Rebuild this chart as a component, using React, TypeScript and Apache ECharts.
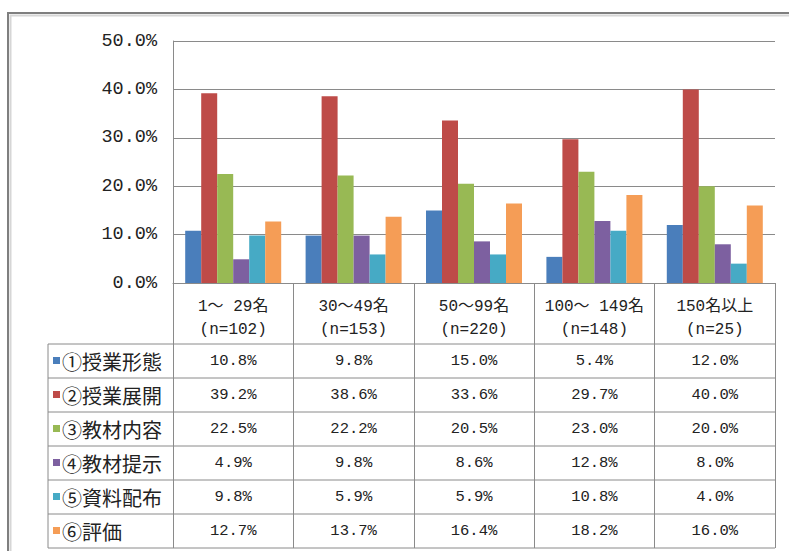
import { useEffect, useRef } from "react";
import * as echarts from "echarts";

const categories = ["1～ 29名", "30～49名", "50～99名", "100～ 149名", "150名以上"];
const sampleSizes = [102, 153, 220, 148, 25];
const seriesNames = ["①授業形態", "②授業展開", "③教材内容", "④教材提示", "⑤資料配布", "⑥評価"];
const s1Form = [10.8, 9.8, 15.0, 5.4, 12.0];
const s2Development = [39.2, 38.6, 33.6, 29.7, 40.0];
const s3Content = [22.5, 22.2, 20.5, 23.0, 20.0];
const s4Presentation = [4.9, 9.8, 8.6, 12.8, 8.0];
const s5Handouts = [9.8, 5.9, 5.9, 10.8, 4.0];
const s6Evaluation = [12.7, 13.7, 16.4, 18.2, 16.0];
const seriesValues = [s1Form, s2Development, s3Content, s4Presentation, s5Handouts, s6Evaluation];
const yMin = 0;
const yMax = 50;
const yInterval = 10;
const colors = ["#4A7EBB", "#BE4B48", "#98B954", "#7D60A0", "#46AAC5", "#F59D56"];

export default function App() {
  const ref = useRef<HTMLDivElement>(null);
  useEffect(() => {
    const chart = echarts.init(ref.current!, null, { renderer: "svg" });
    const GL = 173, GT = 41, GW = 602, GH = 242;
    const GB = GT + GH;
    const GR = GL + GW;
    const tableTop = 344, rowH = 34, tableLeft = 48;
    const nRows = seriesValues.length;
    const tableBottom = tableTop + rowH * nRows;
    const mono = "'Liberation Mono', 'Noto Sans CJK JP', monospace";
    const cjk = "'Noto Sans CJK JP', sans-serif";
    const lineColor = "#8a8a8a";
    const textColor = "#222";

    const valueAxes = seriesValues.map((vals, k) => ({
      type: "category" as const,
      gridIndex: 0,
      data: categories,
      position: "bottom" as const,
      offset: tableTop + k * rowH - GB,
      axisLine: { show: false },
      axisTick: { show: false },
      splitLine: { show: false },
      axisLabel: {
        interval: 0,
        margin: 0,
        lineHeight: rowH,
        fontSize: 15.5,
        fontFamily: mono,
        color: textColor,
        formatter: (_v: string, i: number) => vals[i].toFixed(1) + "%",
      },
    }));

    const graphics: any[] = [
      { type: "rect", shape: { x: 8, y: 13, width: 800, height: 560 }, style: { fill: "none", stroke: "#7f7f7f", lineWidth: 2 } },
      { type: "rect", shape: { x: 10.5, y: 15.5, width: 800, height: 560 }, style: { fill: "none", stroke: "#d6d6d6", lineWidth: 2 } },
      { type: "line", shape: { x1: tableLeft, y1: tableTop, x2: tableLeft, y2: tableBottom }, style: { stroke: lineColor, lineWidth: 1 } },
    ];
    for (let i = 0; i <= nRows; i++) {
      const y = tableTop + i * rowH;
      graphics.push({ type: "line", shape: { x1: tableLeft, y1: y, x2: GR, y2: y }, style: { stroke: lineColor, lineWidth: 1 } });
    }
    seriesNames.forEach((name, k) => {
      const cy = tableTop + k * rowH + rowH / 2;
      graphics.push({ type: "rect", shape: { x: 53, y: cy - 4, width: 7, height: 7 }, style: { fill: colors[k] } });
      graphics.push({
        type: "text", x: 62, y: cy,
        style: { text: name, fontSize: 20, fontFamily: cjk, fill: textColor, verticalAlign: "middle", align: "left" },
      });
    });

    chart.setOption({
      animation: false,
      grid: { left: GL, top: GT, width: GW, height: GH, containLabel: false },
      xAxis: [
        {
          type: "category",
          data: categories,
          axisLine: { show: true, lineStyle: { color: lineColor } },
          axisTick: { show: true, length: tableBottom - GB, lineStyle: { color: lineColor } },
          axisLabel: {
            interval: 0,
            margin: 12,
            lineHeight: 23,
            fontSize: 16,
            fontFamily: mono,
            color: textColor,
            formatter: (v: string, i: number) => `${v}\n(n=${sampleSizes[i]})`,
          },
        },
        ...valueAxes,
      ],
      yAxis: {
        type: "value",
        min: yMin,
        max: yMax,
        interval: yInterval,
        axisLine: { show: true, lineStyle: { color: lineColor } },
        axisTick: { show: false },
        splitLine: { show: true, lineStyle: { color: lineColor } },
        axisLabel: {
          margin: 16,
          fontSize: 18.5,
          fontFamily: mono,
          color: textColor,
          formatter: (v: number) => v.toFixed(1) + "%",
        },
      },
      series: seriesValues.map((vals, k) => ({
        type: "bar",
        name: seriesNames[k],
        data: vals,
        xAxisIndex: 0,
        barWidth: 16,
        barGap: "0%",
        itemStyle: { color: colors[k] },
      })),
      graphic: graphics,
    });
    return () => chart.dispose();
  }, []);
  return <div ref={ref} style={{ position: "fixed", left: 0, top: 0, width: 789, height: 551, background: "#fff" }} />;
}
